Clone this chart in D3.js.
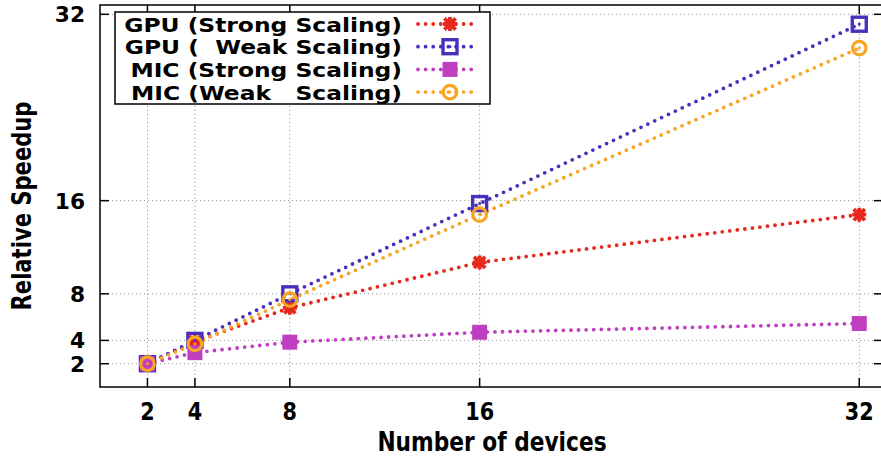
<!DOCTYPE html>
<html>
<head>
<meta charset="utf-8">
<script src="https://cdn.jsdelivr.net/npm/d3@7/dist/d3.min.js"></script>
<style>
  html, body { margin: 0; padding: 0; background: #fff; }
  svg { display: block; }
  text { font-family: "DejaVu Sans", Verdana, sans-serif; font-weight: bold; fill: #000; }
  .cond { font-family: "DejaVu Sans Condensed", "DejaVu Sans", sans-serif; font-stretch: condensed; }
</style>
</head>
<body>
<svg id="chart"></svg>
<script>
// data
const devices = [2, 4, 8, 16, 32];
const gpuStrong = [2, 3.9, 6.8, 10.7, 14.8];
const gpuWeak = [2, 4.0, 8.0, 15.75, 31.15];
const micStrong = [2, 2.95, 3.85, 4.7, 5.45];
const micWeak = [2, 3.7, 7.5, 14.8, 29.1];
const xTicks = [2, 4, 8, 16, 32];
const yTicks = [2, 4, 8, 16, 32];
const seriesNames = ["GPU (Strong Scaling)", "GPU (  Weak Scaling)", "MIC (Strong Scaling)", "MIC (Weak   Scaling)"];

const width = 881, height = 458;
const svg = d3.select("#chart").attr("width", width).attr("height", height);

const x = d3.scaleLinear().domain([0, 33]).range([100, 883]);
const y = d3.scaleLinear().domain([0, 32.8]).range([387, 5]);

const series = [
  { name: seriesNames[0], values: gpuStrong, color: "#e8281c", marker: "star" },
  { name: seriesNames[1], values: gpuWeak, color: "#4a2fbd", marker: "openSquare" },
  { name: seriesNames[2], values: micStrong, color: "#c03fc0", marker: "square" },
  { name: seriesNames[3], values: micWeak, color: "#f7a522", marker: "circle" }
];

// grid
const grid = svg.append("g").attr("stroke", "#999").attr("stroke-width", 1).attr("stroke-dasharray", "1.2 2.8");
grid.selectAll(".gx").data(xTicks).join("line")
  .attr("x1", d => x(d)).attr("x2", d => x(d))
  .attr("y1", y.range()[0]).attr("y2", y.range()[1]);
grid.selectAll(".gy").data(yTicks).join("line")
  .attr("y1", d => y(d)).attr("y2", d => y(d))
  .attr("x1", x.range()[0]).attr("x2", x.range()[1]);

function drawMarker(g, type, color) {
  if (type === "star") {
    const s = 7;
    g.append("path")
      .attr("d", `M${-s},0H${s}M0,${-s}V${s}M${-s*0.8},${-s*0.8}L${s*0.8},${s*0.8}M${-s*0.8},${s*0.8}L${s*0.8},${-s*0.8}`)
      .attr("stroke", color).attr("stroke-width", 3.8).attr("fill", "none");
  } else if (type === "openSquare") {
    g.append("rect").attr("x", -7).attr("y", -7).attr("width", 14).attr("height", 14)
      .attr("fill", "none").attr("stroke", color).attr("stroke-width", 3.4);
    g.append("rect").attr("x", -1.3).attr("y", -1.3).attr("width", 2.6).attr("height", 2.6).attr("fill", color);
  } else if (type === "square") {
    g.append("rect").attr("x", -7.5).attr("y", -7.5).attr("width", 15).attr("height", 15).attr("fill", color);
  } else {
    g.append("circle").attr("r", 6.8).attr("fill", "none").attr("stroke", color).attr("stroke-width", 3.2);
    g.append("circle").attr("r", 1.4).attr("fill", color);
  }
}

const lineGen = d3.line().x((d, i) => x(devices[i])).y(d => y(d));

series.forEach(s => {
  svg.append("path")
    .attr("d", lineGen(s.values))
    .attr("fill", "none")
    .attr("stroke", s.color)
    .attr("stroke-width", 3.8)
    .attr("stroke-linecap", "round")
    .attr("stroke-dasharray", "0 7.6");
});
series.forEach(s => {
  s.values.forEach((v, i) => {
    const g = svg.append("g").attr("transform", `translate(${x(devices[i])},${y(v)})`);
    drawMarker(g, s.marker, s.color);
  });
});

// frame and ticks
const [x0, x1] = x.range();
const [y0, y1] = y.range();
svg.append("rect").attr("x", x0).attr("y", y1).attr("width", x1 - x0).attr("height", y0 - y1)
  .attr("fill", "none").attr("stroke", "#000").attr("stroke-width", 1.5);
const tk = svg.append("g").attr("stroke", "#000").attr("stroke-width", 1.5);
xTicks.forEach(t => {
  tk.append("line").attr("x1", x(t)).attr("x2", x(t)).attr("y1", y0).attr("y2", y0 - 9);
  tk.append("line").attr("x1", x(t)).attr("x2", x(t)).attr("y1", y1).attr("y2", y1 + 9);
});
yTicks.forEach(t => {
  tk.append("line").attr("y1", y(t)).attr("y2", y(t)).attr("x1", x0).attr("x2", x0 + 9);
  tk.append("line").attr("y1", y(t)).attr("y2", y(t)).attr("x1", x1).attr("x2", x1 - 9);
});

// tick labels
svg.append("g").selectAll("text").data(xTicks).join("text")
  .attr("class", "cond")
  .attr("transform", d => `translate(${x(d)},420) scale(1.05,1.15)`)
  .attr("text-anchor", "middle").attr("font-size", 22)
  .text(d => d);
svg.append("g").selectAll("text").data(yTicks).join("text")
  .attr("class", "cond")
  .attr("transform", d => `translate(85,${y(d) + 8}) scale(1.15,1)`)
  .attr("text-anchor", "end").attr("font-size", 21)
  .text(d => d);

// axis titles
svg.append("text").attr("class", "cond")
  .attr("transform", "translate(492,451) scale(1.05,1.15)")
  .attr("text-anchor", "middle").attr("font-size", 23)
  .text("Number of devices");
svg.append("text").attr("class", "cond")
  .attr("transform", "translate(31,206) rotate(-90) scale(1.02,1.12)")
  .attr("text-anchor", "middle").attr("font-size", 23)
  .text("Relative Speedup");

// legend
const legend = svg.append("g");
legend.append("rect").attr("x", 115).attr("y", 12).attr("width", 375).attr("height", 92)
  .attr("fill", "#fff").attr("stroke", "#000").attr("stroke-width", 1.5);
series.forEach((s, i) => {
  const ly = 24 + i * 22.7;
  legend.append("text")
    .attr("transform", `translate(402,${ly + 7.5}) scale(1.2,1)`)
    .attr("text-anchor", "end").attr("font-size", 19.5)
    .style("white-space", "pre")
    .text(s.name);
  legend.append("line").attr("x1", 418).attr("x2", 478).attr("y1", ly).attr("y2", ly)
    .attr("stroke", s.color).attr("stroke-width", 3.8)
    .attr("stroke-linecap", "round").attr("stroke-dasharray", "0 7.6");
  const g = legend.append("g").attr("transform", `translate(450,${ly})`);
  drawMarker(g, s.marker, s.color);
});
</script>
</body>
</html>
